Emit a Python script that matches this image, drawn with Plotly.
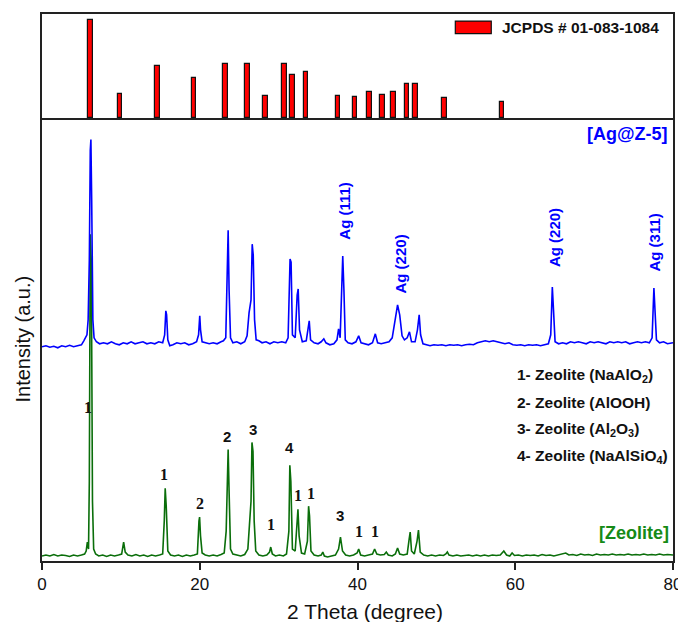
import plotly.graph_objects as go

# ---------------- data ----------------
# JCPDS # 01-083-1084 reference lines (2-theta, relative intensity)
jcpds_2theta = [6.16, 9.90, 14.63, 19.25, 23.27, 26.04, 28.33, 30.76, 31.79, 33.45,
                37.53, 39.67, 41.53, 43.18, 44.56, 46.26, 47.37, 51.00, 58.32]
jcpds_intensity = [100, 24.6, 52.9, 40.7, 54.5, 54.5, 22.6, 54.5, 43.4, 46.8,
                   22.6, 21.9, 26.3, 23.6, 26.9, 35.1, 35.1, 20.9, 16.8]

# Zeolite pattern (2-theta, intensity a.u.)
zeolite_2theta = [0.0, 0.5, 1.0, 1.5, 2.0, 2.5, 3.0, 3.5, 4.0, 4.5, 5.0, 5.4, 5.6, 5.75, 5.9, 6.0, 6.12, 6.25, 6.4, 6.55,
                  6.8, 7.2, 7.7, 8.2, 8.7, 9.2, 9.7, 10.1, 10.35, 10.55, 10.9, 11.4, 11.9, 12.4, 12.9, 13.4, 13.9, 14.4, 14.9, 15.3,
                  15.5, 15.62, 15.75, 15.95, 16.3, 16.8, 17.3, 17.8, 18.3, 18.8, 19.3, 19.7, 19.9, 19.98, 20.1, 20.3, 20.7, 21.2, 21.7, 22.2,
                  22.7, 23.1, 23.35, 23.5, 23.6, 23.72, 23.9, 24.2, 24.7, 25.2, 25.7, 26.1, 26.3, 26.5, 26.62, 26.75, 26.9, 27.1, 27.5, 28.0,
                  28.5, 28.85, 29.0, 29.2, 29.6, 30.1, 30.6, 31.0, 31.3, 31.42, 31.55, 31.75, 32.1, 32.33, 32.45, 32.6, 32.9, 33.3, 33.65, 33.8,
                  33.92, 34.1, 34.5, 35.0, 35.4, 35.6, 35.8, 36.2, 36.7, 37.2, 37.6, 37.84, 38.1, 38.5, 39.0, 39.5, 39.95, 40.15, 40.4, 40.9,
                  41.4, 41.9, 42.17, 42.45, 42.9, 43.4, 43.65, 43.9, 44.4, 44.8, 45.08, 45.35, 45.8, 46.3, 46.55, 46.68, 46.85, 47.2, 47.55, 47.73,
                  47.95, 48.4, 48.9, 49.4, 49.9, 50.4, 50.9, 51.2, 51.39, 51.6, 52.1, 52.6, 53.1, 53.6, 54.1, 54.6, 55.1, 55.6, 56.1, 56.6,
                  57.1, 57.6, 58.1, 58.55, 58.9, 59.3, 59.6, 59.9, 60.4, 60.9, 61.4, 61.9, 62.4, 62.9, 63.4, 63.9, 64.4, 64.9, 65.4, 65.9,
                  66.4, 66.8, 67.3, 67.8, 68.3, 68.8, 69.3, 69.8, 70.3, 70.8, 71.3, 71.8, 72.3, 72.8, 73.3, 73.8, 74.3, 74.8, 75.3, 75.8,
                  76.3, 76.8, 77.3, 77.8, 78.3, 78.8, 79.3, 80.0]
zeolite_intensity = [5, 6, 5, 6.5, 5, 6, 5.5, 4.5, 6, 5, 6, 7, 10, 19, 12, 80, 328, 300, 60, 12,
                     7, 5, 6, 4.5, 6, 5, 6, 7, 19, 9, 6, 5, 6.5, 5, 6, 4.5, 6, 5, 6, 7,
                     40, 73, 55, 10, 6, 5, 6, 4.5, 6, 5, 6, 7, 40, 44, 25, 8, 6, 5, 6, 5,
                     6.5, 8, 30, 105, 112, 70, 12, 7, 6, 5, 6.5, 12, 36, 60, 119, 110, 40, 10, 6, 5,
                     6, 9, 14, 7, 5, 6, 5, 7, 30, 96, 80, 12, 10, 45, 52, 25, 8, 7, 20, 55,
                     45, 10, 6, 5, 6, 9, 5, 4, 5, 6, 12, 24, 10, 6, 5, 6, 8, 12, 6, 5,
                     6, 7, 12, 7, 6, 6.5, 9, 6, 5, 7, 13, 7, 6, 7, 22, 29, 10, 7, 20, 31,
                     9, 6, 5, 6, 5, 6, 5.5, 7, 9, 6, 5, 6, 5, 5.5, 6, 5, 6, 5, 6, 5,
                     6, 5.5, 6, 10, 6, 5, 8, 5.5, 6, 5, 6, 5.5, 6, 5, 6.5, 5.5, 6, 5, 6, 6.5,
                     8, 6, 6.5, 5.5, 7, 6, 6.5, 5.5, 7, 6, 6.5, 6, 7, 6, 6.5, 6, 7, 6, 6.5, 6,
                     7, 6, 6.5, 6, 7, 6, 6.5, 6]

# Ag@Z-5 pattern (2-theta, intensity a.u., before vertical stacking offset)
ag_2theta = [0.0, 0.5, 1.0, 1.5, 2.0, 2.5, 3.0, 3.5, 4.0, 4.5, 5.0, 5.3, 5.5, 5.7, 5.85, 6.0, 6.12, 6.2, 6.3, 6.45,
             6.6, 6.9, 7.3, 7.8, 8.3, 8.8, 9.3, 9.8, 10.3, 10.8, 11.3, 11.8, 12.3, 12.8, 13.3, 13.8, 14.3, 14.8, 15.3, 15.55,
             15.7, 15.8, 15.95, 16.2, 16.6, 17.1, 17.6, 18.1, 18.6, 19.1, 19.6, 19.85, 20.0, 20.1, 20.3, 20.7, 21.2, 21.7, 22.2, 22.7,
             23.0, 23.3, 23.5, 23.6, 23.72, 23.9, 24.2, 24.7, 25.2, 25.7, 26.0, 26.25, 26.5, 26.65, 26.78, 26.95, 27.15, 27.5, 27.9, 28.4,
             28.9, 29.4, 29.9, 30.4, 30.9, 31.2, 31.45, 31.58, 31.75, 32.1, 32.35, 32.48, 32.65, 33.0, 33.5, 33.75, 33.88, 34.05, 34.5, 35.0,
             35.4, 35.73, 36.0, 36.5, 37.0, 37.4, 37.6, 37.8, 38.0, 38.13, 38.28, 38.45, 38.8, 39.3, 39.8, 40.15, 40.45, 40.9, 41.4, 41.9,
             42.26, 42.55, 43.0, 43.5, 44.0, 44.4, 44.8, 45.08, 45.35, 45.65, 45.95, 46.3, 46.59, 46.85, 47.3, 47.6, 47.82, 48.0, 48.3, 48.7,
             49.2, 49.7, 50.2, 50.7, 51.2, 51.7, 52.2, 52.7, 53.2, 53.7, 54.2, 54.7, 55.2, 55.7, 56.2, 56.7, 57.2, 57.7, 58.2, 58.7,
             59.2, 59.7, 60.2, 60.7, 61.2, 61.7, 62.2, 62.7, 63.2, 63.7, 64.2, 64.5, 64.7, 64.85, 65.05, 65.5, 66.0, 66.5, 67.0, 67.5,
             68.0, 68.5, 69.0, 69.5, 70.0, 70.5, 71.0, 71.5, 72.0, 72.5, 73.0, 73.5, 74.0, 74.5, 75.0, 75.5, 76.0, 76.5, 77.0, 77.35,
             77.58, 77.72, 77.9, 78.3, 78.8, 79.3, 79.8, 80.0]
ag_intensity = [3, 4, 2.5, 3.5, 2, 4, 3, 4.5, 3, 4, 5, 9, 12, 15, 30, 90, 200, 211, 150, 30,
                12, 8, 6, 7, 6, 8, 6, 5, 7, 6, 8, 6, 7, 8, 6, 7, 6, 8, 7, 15,
                39, 35, 10, 4, 5, 7, 6, 7, 5, 6, 8, 15, 34, 20, 8, 7, 6, 7, 6, 8,
                9, 12, 100, 120, 60, 12, 7, 8, 6, 8, 14, 37, 50, 106, 95, 30, 10, 9, 7, 8,
                6, 8, 7, 8, 7, 12, 91, 88, 15, 12, 55, 61, 20, 8, 9, 22, 29, 10, 7, 6,
                8, 11, 7, 5, 6, 10, 21, 12, 60, 94, 60, 10, 7, 6, 8, 14, 7, 6, 5, 7,
                16, 7, 6, 7, 8, 12, 30, 45, 35, 14, 10, 12, 18, 8, 8, 20, 35, 15, 6, 5,
                4, 5, 4.5, 5, 4, 5, 4.5, 5, 4, 5, 5.5, 5, 7, 8, 9, 8, 9, 8, 7, 6,
                7, 5, 4.5, 5, 4, 5, 4.5, 5, 4, 5, 6, 15, 63, 40, 8, 6, 7, 6, 8, 7,
                8, 7, 6, 8, 7, 8, 7, 6, 8, 7, 8, 7, 8, 6, 7, 8, 7, 8, 7, 12,
                62, 40, 10, 7, 8, 6, 7, 7]
ag_offset = 212

# Phase labels on zeolite peaks: (2-theta, intensity, label)
phase_2theta = [5.81, 15.53, 20.04, 23.48, 26.8, 29.04, 31.4, 32.4, 34.05, 37.84, 40.24, 42.17]
phase_intensity = [154, 87, 58, 125, 132, 37, 114, 66, 68, 46, 30, 30]
phase_labels = ["1", "1", "2", "2", "3", "1", "4", "1", "1", "3", "1", "1"]
phase_sans = [False, False, False, True, True, False, True, False, False, True, False, False]

# Ag reflections labels (2-theta, intensity on plot)
ag_label_2theta = [38.3, 45.41, 64.99, 77.61]
ag_label_intensity = [351.7, 297.7, 324.7, 319.7]
ag_labels = ["Ag (111)", "Ag (220)", "Ag (220)", "Ag (311)"]

phase_legend = ["1- Zeolite (NaAlO<sub>2</sub>)", "2- Zeolite (AlOOH)",
                "3- Zeolite (Al<sub>2</sub>O<sub>3</sub>)", "4- Zeolite (NaAlSiO<sub>4</sub>)"]
phase_legend_y = [185.7, 158.7, 131.7, 104.7]

# ---------------- figure ----------------
SANS = "Liberation Sans, Arial, sans-serif"
SERIF = "Liberation Serif, Times New Roman, serif"
BLUE = "#0000FF"
GREEN = "#0A6E0A"
GREEN_TXT = "#168A16"

fig = go.Figure()

fig.add_trace(go.Bar(x=jcpds_2theta, y=jcpds_intensity, width=0.58,
                     marker=dict(color="#FF0000", line=dict(color="#111111", width=1.2)),
                     xaxis="x2", yaxis="y2", showlegend=False, name="JCPDS # 01-083-1084"))

fig.add_trace(go.Scatter(x=zeolite_2theta, y=zeolite_intensity, mode="lines",
                         line=dict(color=GREEN, width=1.6), showlegend=False, name="Zeolite"))
fig.add_trace(go.Scatter(x=ag_2theta, y=[v + ag_offset for v in ag_intensity], mode="lines",
                         line=dict(color=BLUE, width=1.6), showlegend=False, name="Ag@Z-5"))

ann = []
for x, y, t, s in zip(phase_2theta, phase_intensity, phase_labels, phase_sans):
    ann.append(dict(x=x, y=y, xref="x", yref="y", text=f"<b>{t}</b>", showarrow=False,
                    font=dict(family=SANS if s else SERIF, size=15 if s else 16, color="#111111"),
                    xanchor="center", yanchor="middle"))
for x, y, t in zip(ag_label_2theta, ag_label_intensity, ag_labels):
    ann.append(dict(x=x, y=y, xref="x", yref="y", text=f"<b>{t}</b>", showarrow=False, textangle=-90,
                    font=dict(family=SANS, size=15, color=BLUE), xanchor="center", yanchor="middle"))
for t, y in zip(phase_legend, phase_legend_y):
    ann.append(dict(x=60.0, y=y, xref="x", yref="y", text=f"<b>{t}</b>", showarrow=False,
                    font=dict(family=SANS, size=15.5, color="#111111"), xanchor="left", yanchor="middle"))
ann.append(dict(x=79.6, y=428.7, xref="x", yref="y", text="<b>[Ag@Z-5]</b>", showarrow=False,
                font=dict(family=SANS, size=18, color=BLUE), xanchor="right", yanchor="middle"))
ann.append(dict(x=79.7, y=28, xref="x", yref="y", text="<b>[Zeolite]</b>", showarrow=False,
                font=dict(family=SANS, size=18, color=GREEN_TXT), xanchor="right", yanchor="middle"))
# legend of top panel
ann.append(dict(x=0.7257, y=0.975, xref="paper", yref="paper", text="<b>JCPDS # 01-083-1084</b>",
                showarrow=False, font=dict(family=SANS, size=15.5, color="#111111"),
                xanchor="left", yanchor="middle"))
# axis titles
ann.append(dict(x=-0.030, y=0.405, xref="paper", yref="paper", text="Intensity (a.u.)", textangle=-90,
                showarrow=False, font=dict(family=SANS, size=20, color="#111111"),
                xanchor="center", yanchor="middle"))
ann.append(dict(x=0.512, y=-0.0924, xref="paper", yref="paper", text="2 Theta (degree)",
                showarrow=False, font=dict(family=SANS, size=21, color="#111111"),
                xanchor="center", yanchor="middle"))

shapes = [dict(type="rect", xref="paper", yref="paper", x0=0.655, x1=0.712, y0=0.964, y1=0.987,
               fillcolor="#FF0000", line=dict(color="#111111", width=1.2))]

axis_line = dict(showline=True, linecolor="#222222", linewidth=1.5,
                 showgrid=False, zeroline=False)

# page body has an 8px default margin, so the figure is sized to fit the window from (8, 8)
fig.update_layout(
    width=678, height=614,
    margin=dict(l=34, r=10.5, t=4, b=61.3),
    paper_bgcolor="white", plot_bgcolor="white",
    bargap=0,
    annotations=ann, shapes=shapes,
    xaxis=dict(range=[0, 80], domain=[0, 1], anchor="y", tickvals=[0, 20, 40, 60, 80],
               ticks="outside", ticklen=7, tickwidth=1.5, tickcolor="#222222", mirror=False,
               tickfont=dict(family=SANS, size=17, color="#111111"), **axis_line),
    yaxis=dict(range=[0, 444.4], domain=[0, 0.8095], anchor="x", showticklabels=False, ticks="",
               mirror=True, **axis_line),
    xaxis2=dict(range=[0, 80], domain=[0, 1], anchor="y2", matches="x", showticklabels=False, ticks="",
                mirror=True, **axis_line),
    yaxis2=dict(range=[0, 105.7], domain=[0.8095, 1], anchor="x2", showticklabels=False, ticks="",
                mirror=True, **axis_line),
)

fig.write_html("out.html")
